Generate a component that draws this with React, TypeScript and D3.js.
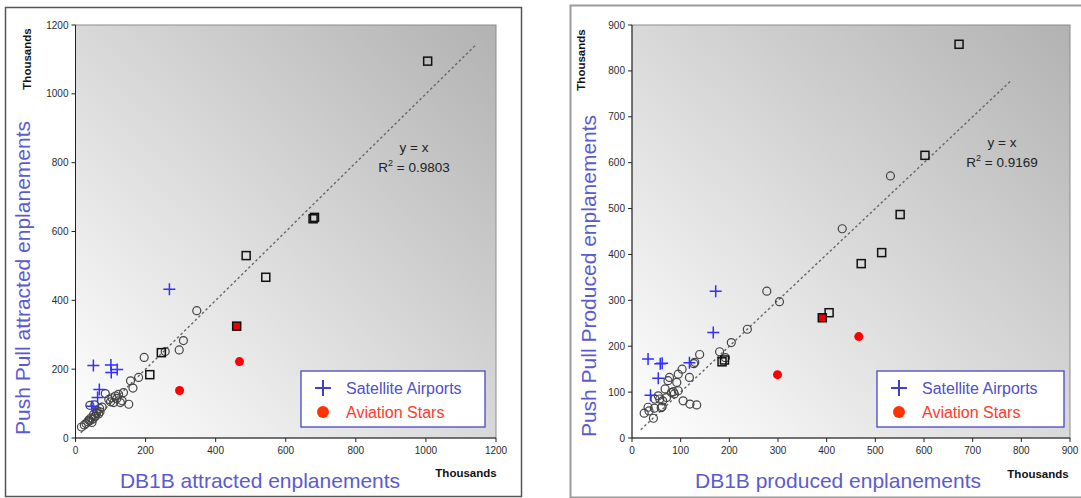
import React from "react";
import * as d3 from "d3";

type Pt = [number, number];

// Attracted enplanements, thousands: [DB1B, Push Pull]
const attractedCircles: Pt[] = [
  [17, 32], [25, 38], [30, 42], [35, 47], [38, 52], [41, 50], [44, 58], [47, 45],
  [50, 55], [52, 69], [55, 62], [57, 64], [60, 72], [62, 79], [66, 70], [69, 86],
  [70, 76], [76, 90], [41, 95], [55, 96], [85, 129], [95, 112], [100, 105], [104, 117],
  [109, 103], [114, 122], [118, 115], [123, 127], [128, 103], [133, 108], [137, 132],
  [152, 98], [157, 166], [164, 145], [180, 176], [196, 234], [256, 251], [296, 256],
  [308, 283], [346, 370],
];
const attractedSquares: Pt[] = [
  [212, 184], [245, 248], [487, 530], [543, 467], [678, 637], [682, 641], [1005, 1095],
];
const attractedRedSquares: Pt[] = [[460, 325]];
const attractedSatellites: Pt[] = [
  [51, 211], [101, 212], [102, 190], [119, 199], [68, 141], [63, 118], [47, 92], [268, 432],
];
const attractedStars: Pt[] = [[297, 138], [468, 222]];
const attractedFit: number[] = [15, 1145];
const attractedTicks: number[] = [0, 200, 400, 600, 800, 1000, 1200];
const attractedR2 = "0.9803";

// Produced enplanements, thousands: [DB1B, Push Pull]
const producedCircles: Pt[] = [
  [25, 54], [33, 67], [35, 59], [44, 43], [46, 65], [47, 85], [57, 85], [54, 92],
  [60, 66], [62, 68], [63, 81], [68, 107], [71, 88], [74, 125], [77, 132], [81, 99],
  [85, 101], [87, 96], [92, 121], [95, 103], [95, 139], [103, 150], [105, 81], [118, 132],
  [119, 74], [133, 72], [127, 162], [129, 165], [139, 182], [180, 188], [192, 175],
  [204, 208], [237, 237], [277, 320], [303, 297], [432, 456], [531, 571],
];
const producedSquares: Pt[] = [
  [185, 166], [190, 170], [405, 273], [471, 380], [513, 404], [551, 487], [602, 616], [672, 858],
];
const producedRedSquares: Pt[] = [[391, 262]];
const producedSatellites: Pt[] = [
  [33, 172], [58, 162], [62, 163], [54, 130], [38, 93], [118, 164], [167, 230], [172, 320],
];
const producedStars: Pt[] = [[299, 138], [466, 221]];
const producedFit: number[] = [18, 777];
const producedTicks: number[] = [0, 100, 200, 300, 400, 500, 600, 700, 800, 900];
const producedR2 = "0.9169";

const legendLabels = ["Satellite Airports", "Aviation Stars"];

const FONT = "'Liberation Sans', Arial, sans-serif";
const TITLE_COLOR = "#5b5bd0";

interface PanelCfg {
  id: string;
  frame: { x: number; y: number; w: number; h: number; stroke: string; sw: number };
  domain: [number, number];
  xRange: [number, number];
  yRange: [number, number];
  ticks: number[];
  circles: Pt[];
  squares: Pt[];
  redSquares: Pt[];
  satellites: Pt[];
  stars: Pt[];
  fit: number[];
  r2: string;
  eqX: number;
  eqY: number;
  xTitle: string;
  yTitle: string;
  xTitleX: number;
  yTitleX: number;
  yTitleY: number;
  yThousands: [number, number];
  xThousands: [number, number];
  legend: { x: number; y: number; w: number; h: number };
}

function Panel({ cfg }: { cfg: PanelCfg }) {
  const x = d3.scaleLinear().domain(cfg.domain).range(cfg.xRange);
  const y = d3.scaleLinear().domain(cfg.domain).range(cfg.yRange);
  const [px0, px1] = cfg.xRange;
  const [py0, py1] = cfg.yRange; // py0 = bottom
  const fitPath = d3
    .line<number>()
    .x((v) => x(v))
    .y((v) => y(v))(cfg.fit) as string;
  const gid = `grad-${cfg.id}`;
  const f = cfg.frame;
  const lg = cfg.legend;

  return (
    <g>
      <defs>
        <linearGradient id={gid} x1="0" y1="1" x2="1" y2="0">
          <stop offset="0" stopColor="#ffffff" />
          <stop offset="1" stopColor="#b2b2b2" />
        </linearGradient>
      </defs>
      <rect x={f.x} y={f.y} width={f.w} height={f.h} fill="#ffffff" stroke={f.stroke} strokeWidth={f.sw} />

      {/* plot area */}
      <rect x={px0} y={py1} width={px1 - px0} height={py0 - py1} fill={`url(#${gid})`} stroke="#8c8c8c" strokeWidth={1} />

      {/* axes */}
      <line x1={px0} y1={py0} x2={px1} y2={py0} stroke="#222" strokeWidth={1} />
      <line x1={px0} y1={py0} x2={px0} y2={py1} stroke="#222" strokeWidth={1} />
      {cfg.ticks.map((t) => (
        <g key={`x${t}`}>
          <line x1={x(t)} y1={py0} x2={x(t)} y2={py0 + 4} stroke="#222" />
          <text x={x(t)} y={py0 + 16} textAnchor="middle" fontSize={10} fill="#2a2a2a" fontFamily={FONT}>
            {t}
          </text>
        </g>
      ))}
      {cfg.ticks.map((t) => (
        <g key={`y${t}`}>
          <line x1={px0 - 4} y1={y(t)} x2={px0} y2={y(t)} stroke="#222" />
          <text x={px0 - 7} y={y(t) + 3.5} textAnchor="end" fontSize={10} fill="#2a2a2a" fontFamily={FONT}>
            {t}
          </text>
        </g>
      ))}

      {/* y = x reference */}
      <path d={fitPath} stroke="#666" strokeWidth={1.4} strokeDasharray="2.5,2.5" fill="none" />

      {cfg.circles.map((d, i) => (
        <circle key={`c${i}`} cx={x(d[0])} cy={y(d[1])} r={4} fill="none" stroke="#444" strokeWidth={1.2} />
      ))}
      {cfg.squares.map((d, i) => (
        <rect key={`s${i}`} x={x(d[0]) - 4} y={y(d[1]) - 4} width={8} height={8} fill="none" stroke="#111" strokeWidth={1.5} />
      ))}
      {cfg.redSquares.map((d, i) => (
        <rect key={`rs${i}`} x={x(d[0]) - 4} y={y(d[1]) - 4} width={8} height={8} fill="#ee0000" stroke="#111" strokeWidth={1.5} />
      ))}
      {cfg.stars.map((d, i) => (
        <circle key={`a${i}`} cx={x(d[0])} cy={y(d[1])} r={4.5} fill="#ff0000" />
      ))}
      {cfg.satellites.map((d, i) => (
        <path
          key={`p${i}`}
          d={`M${x(d[0]) - 6},${y(d[1])}H${x(d[0]) + 6}M${x(d[0])},${y(d[1]) - 6}V${y(d[1]) + 6}`}
          stroke="#3030ff"
          strokeWidth={1.5}
        />
      ))}

      {/* equation */}
      <text x={cfg.eqX} y={cfg.eqY} textAnchor="middle" fontSize={13.5} fill="#222" fontFamily={FONT}>
        y = x
      </text>
      <text x={cfg.eqX} y={cfg.eqY + 20} textAnchor="middle" fontSize={13.5} fill="#222" fontFamily={FONT}>
        R<tspan dy={-6} fontSize={9}>2</tspan>
        <tspan dy={6}> = {cfg.r2}</tspan>
      </text>

      {/* legend */}
      <rect x={lg.x} y={lg.y} width={lg.w} height={lg.h} fill="#ffffff" stroke="#4848c0" strokeWidth={1.3} />
      <path
        d={`M${lg.x + 14},${lg.y + 17}H${lg.x + 30}M${lg.x + 22},${lg.y + 9}V${lg.y + 25}`}
        stroke="#4040c8"
        strokeWidth={2}
      />
      <text x={lg.x + 45} y={lg.y + 17} dominantBaseline="central" fontSize={16} fill="#5050c8" fontFamily={FONT}>
        {legendLabels[0]}
      </text>
      <circle cx={lg.x + 22} cy={lg.y + 41} r={6} fill="#ff3300" />
      <text x={lg.x + 45} y={lg.y + 41} dominantBaseline="central" fontSize={16} fill="#ff3a2a" fontFamily={FONT}>
        {legendLabels[1]}
      </text>

      {/* titles */}
      <text x={cfg.xTitleX} y={480} textAnchor="middle" dominantBaseline="central" fontSize={21} fill={TITLE_COLOR} fontFamily={FONT}>
        {cfg.xTitle}
      </text>
      <text
        transform={`translate(${cfg.yTitleX},${cfg.yTitleY}) rotate(-90)`}
        textAnchor="middle"
        dominantBaseline="central"
        fontSize={21}
        fill={TITLE_COLOR}
        fontFamily={FONT}
      >
        {cfg.yTitle}
      </text>
      <text
        transform={`translate(${cfg.yThousands[0]},${cfg.yThousands[1]}) rotate(-90)`}
        textAnchor="middle"
        dominantBaseline="central"
        fontSize={11.5}
        fontWeight="bold"
        fill="#111"
        fontFamily={FONT}
      >
        Thousands
      </text>
      <text x={cfg.xThousands[0]} y={cfg.xThousands[1]} textAnchor="middle" dominantBaseline="central" fontSize={11.5} fontWeight="bold" fill="#111" fontFamily={FONT}>
        Thousands
      </text>
    </g>
  );
}

const attractedCfg: PanelCfg = {
  id: "attracted",
  frame: { x: 5.5, y: 7.5, w: 516, h: 489, stroke: "#555", sw: 1.5 },
  domain: [0, 1200],
  xRange: [75.5, 496],
  yRange: [438, 25],
  ticks: attractedTicks,
  circles: attractedCircles,
  squares: attractedSquares,
  redSquares: attractedRedSquares,
  satellites: attractedSatellites,
  stars: attractedStars,
  fit: attractedFit,
  r2: attractedR2,
  eqX: 414,
  eqY: 152,
  xTitle: "DB1B attracted enplanements",
  yTitle: "Push Pull attracted enplanements",
  xTitleX: 260,
  yTitleX: 22,
  yTitleY: 278,
  yThousands: [27, 59],
  xThousands: [466, 473],
  legend: { x: 301, y: 371, w: 184, h: 56 },
};

const producedCfg: PanelCfg = {
  id: "produced",
  frame: { x: 570.5, y: 5.5, w: 525, h: 492, stroke: "#9a9a9a", sw: 2 },
  domain: [0, 900],
  xRange: [632, 1070],
  yRange: [438, 25],
  ticks: producedTicks,
  circles: producedCircles,
  squares: producedSquares,
  redSquares: producedRedSquares,
  satellites: producedSatellites,
  stars: producedStars,
  fit: producedFit,
  r2: producedR2,
  eqX: 1002,
  eqY: 147,
  xTitle: "DB1B produced enplanements",
  yTitle: "Push Pull Produced enplanements",
  xTitleX: 838,
  yTitleX: 588,
  yTitleY: 276,
  yThousands: [581, 60],
  xThousands: [1038, 474],
  legend: { x: 877, y: 371, w: 187, h: 56 },
};

export default function App() {
  return (
    <svg
      width={1081}
      height={498}
      style={{ position: "absolute", left: 0, top: 0, display: "block", background: "#ffffff" }}
    >
      <Panel cfg={attractedCfg} />
      <Panel cfg={producedCfg} />
    </svg>
  );
}
